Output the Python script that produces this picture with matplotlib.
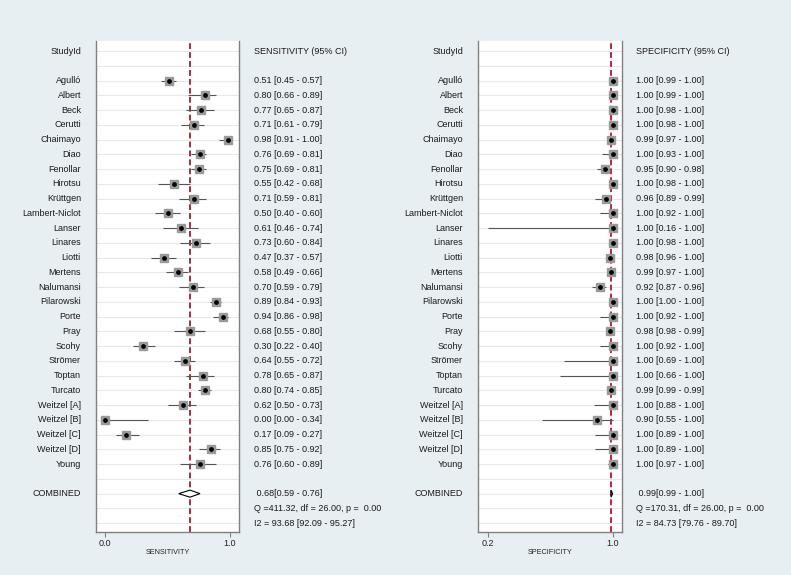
import numpy as np
import matplotlib.pyplot as plt
from matplotlib.transforms import blended_transform_factory

plt.rcParams['font.family'] = ['Liberation Sans', 'DejaVu Sans']

studies = ['Agulló', 'Albert', 'Beck', 'Cerutti', 'Chaimayo', 'Diao', 'Fenollar',
           'Hirotsu', 'Krüttgen', 'Lambert-Niclot', 'Lanser', 'Linares', 'Liotti',
           'Mertens', 'Nalumansi', 'Pilarowski', 'Porte', 'Pray', 'Scohy', 'Strömer',
           'Toptan', 'Turcato', 'Weitzel [A]', 'Weitzel [B]', 'Weitzel [C]',
           'Weitzel [D]', 'Young']

sens = [0.51, 0.80, 0.77, 0.71, 0.98, 0.76, 0.75, 0.55, 0.71, 0.50, 0.61, 0.73, 0.47,
        0.58, 0.70, 0.89, 0.94, 0.68, 0.30, 0.64, 0.78, 0.80, 0.62, 0.00, 0.17, 0.85, 0.76]
sens_lo = [0.45, 0.66, 0.65, 0.61, 0.91, 0.69, 0.69, 0.42, 0.59, 0.40, 0.46, 0.60, 0.37,
           0.49, 0.59, 0.84, 0.86, 0.55, 0.22, 0.55, 0.65, 0.74, 0.50, 0.00, 0.09, 0.75, 0.60]
sens_hi = [0.57, 0.89, 0.87, 0.79, 1.00, 0.81, 0.81, 0.68, 0.81, 0.60, 0.74, 0.84, 0.57,
           0.66, 0.79, 0.93, 0.98, 0.80, 0.40, 0.72, 0.87, 0.85, 0.73, 0.34, 0.27, 0.92, 0.89]

spec = [1.00, 1.00, 1.00, 1.00, 0.99, 1.00, 0.95, 1.00, 0.96, 1.00, 1.00, 1.00, 0.98,
        0.99, 0.92, 1.00, 1.00, 0.98, 1.00, 1.00, 1.00, 0.99, 1.00, 0.90, 1.00, 1.00, 1.00]
spec_lo = [0.99, 0.99, 0.98, 0.98, 0.97, 0.93, 0.90, 0.98, 0.89, 0.92, 0.16, 0.98, 0.96,
           0.97, 0.87, 1.00, 0.92, 0.98, 0.92, 0.69, 0.66, 0.99, 0.88, 0.55, 0.89, 0.89, 0.97]
spec_hi = [1.00, 1.00, 1.00, 1.00, 1.00, 1.00, 0.98, 1.00, 0.99, 1.00, 1.00, 1.00, 1.00,
           1.00, 0.96, 1.00, 1.00, 0.99, 1.00, 1.00, 1.00, 0.99, 1.00, 1.00, 1.00, 1.00, 1.00]

sens_pool = (0.68, 0.59, 0.76)
spec_pool = (0.99, 0.99, 1.00)
sens_q = 'Q =411.32, df = 26.00, p =  0.00'
sens_i2 = 'I2 = 93.68 [92.09 - 95.27]'
spec_q = 'Q =170.31, df = 26.00, p =  0.00'
spec_i2 = 'I2 = 84.73 [79.76 - 89.70]'

W, H = 791, 575
bg = '#e8eff2'
grid = '#e3eaee'
fs = 6.5

fig = plt.figure(figsize=(W / 100, H / 100), dpi=100, facecolor=bg)


def panel(box, name_x, val_x, est, lo, hi, pool, q, i2, ticks, xlim, label, title, vcol):
    x0, y0, x1, y1 = box
    ax = fig.add_axes([x0 / W, 1 - y1 / H, (x1 - x0) / W, (y1 - y0) / H])
    ax.set_facecolor('white')
    ax.set_xlim(xlim)
    ax.set_ylim(32.6, -0.68)
    for r in range(33):
        ax.axhline(r, color=grid, lw=0.8, zorder=0)
    ax.axvline(pool[0], color=vcol, ls=(0, (3, 1.6)), lw=1.4, zorder=1)

    rows = np.arange(2, 2 + len(est))
    ax.hlines(rows, np.clip(lo, ticks[0], None), hi, color='#555555', lw=0.8, zorder=2)
    ax.plot(est, rows, 's', ms=5.6, color='#9a9a9a', zorder=3)
    ax.plot(est, rows, 'o', ms=2.4, color='black', zorder=4)

    p, plo, phi = pool
    ax.fill([plo, p, phi, p], [30, 29.76, 30, 30.24], fc='white', ec='black', lw=0.8, zorder=4)

    for s in ['left', 'right', 'bottom']:
        ax.spines[s].set_color('#808080')
        ax.spines[s].set_linewidth(1.0)
    ax.spines['top'].set_visible(False)
    ax.set_yticks([])
    ax.set_xticks(ticks)
    ax.set_xticklabels(['%.1f' % t for t in ticks])
    ax.tick_params(axis='x', length=3.5, width=0.8, color='#808080',
                   labelsize=fs, pad=1.5, labelcolor='#222222')
    ax.set_xlabel(label, fontsize=5.2, color='#222222', labelpad=1)

    tr = blended_transform_factory(fig.transFigure, ax.transData)
    kw = dict(transform=tr, va='center', fontsize=fs, color='#1a1a1a')
    fig.text(name_x / W, 0, 'StudyId', ha='right', **kw)
    fig.text(val_x / W, 0, title, ha='left', **kw)
    for i, name in enumerate(studies):
        fig.text(name_x / W, rows[i], name, ha='right', **kw)
        fig.text(val_x / W, rows[i], '%.2f [%.2f - %.2f]' % (est[i], lo[i], hi[i]),
                 ha='left', **kw)
    fig.text(name_x / W, 30, 'COMBINED', ha='right', **kw)
    fig.text(val_x / W, 30, ' %.2f[%.2f - %.2f]' % pool, ha='left', **kw)
    fig.text(val_x / W, 31, q, ha='left', **kw)
    fig.text(val_x / W, 32, i2, ha='left', **kw)
    return ax


panel((96, 41, 239, 532), 81, 254.5, sens, sens_lo, sens_hi, sens_pool, sens_q, sens_i2,
      [0.0, 1.0], (-0.072, 1.072), 'SENSITIVITY', 'SENSITIVITY (95% CI)', '#a3303f')
panel((478, 41, 622, 532), 463, 636.5, spec, spec_lo, spec_hi, spec_pool, spec_q, spec_i2,
      [0.2, 1.0], (0.138, 1.06), 'SPECIFICITY', 'SPECIFICITY (95% CI)', '#c42040')

fig.savefig('out.png', dpi=100, facecolor=bg)
